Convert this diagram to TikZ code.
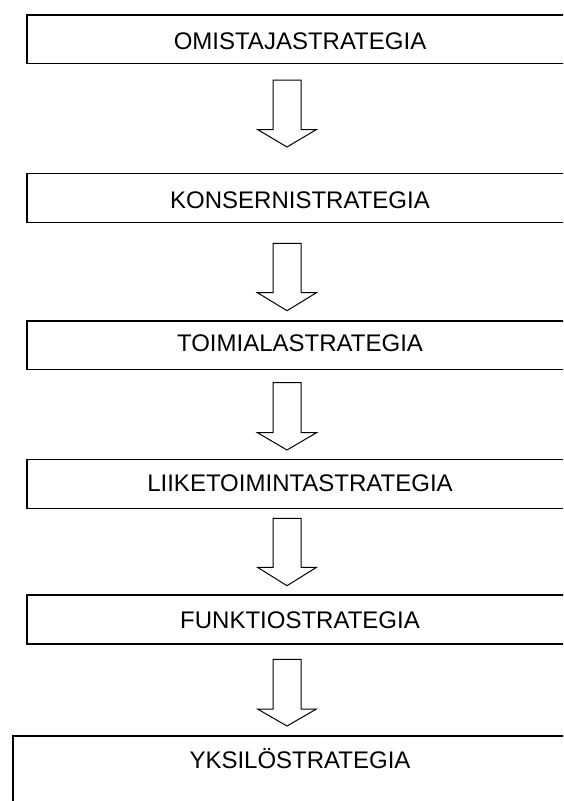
\documentclass[tikz,border=0pt]{standalone}
\usepackage{fontspec}
\setmainfont{Liberation Sans}
\begin{document}
\begin{tikzpicture}[x=1pt,y=1pt,
  levelbox/.style={draw=black, line width=1.5pt, rectangle, anchor=north west,
    inner sep=0pt, minimum width=548pt},
  levellabel/.style={anchor=base, inner sep=0pt, font=\fontsize{24}{28}\selectfont},
  blockarrow/.style={draw=black, line width=1pt, fill=white, line join=miter}]
\useasboundingbox (0,0) rectangle (563,-801);
\clip (0,0) rectangle (563,-801);

% strategy levels
\node[levelbox, minimum height=48.5pt] (b1) at (26,-14) {};
\node[levelbox, minimum height=49pt] (b2) at (26,-172.7) {};
\node[levelbox, minimum height=48.7pt] (b3) at (26,-320) {};
\node[levelbox, minimum height=49.2pt] (b4) at (26,-458.5) {};
\node[levelbox, minimum height=49pt] (b5) at (26,-594.3) {};
\node[levelbox, minimum width=576pt, minimum height=90pt] (b6) at (12,-735) {};

\node[levellabel] (t1) at (300,-49) {OMISTAJASTRATEGIA};
\node[levellabel] (t2) at (300,-208.3) {KONSERNISTRATEGIA};
\node[levellabel] (t3) at (300,-351.7) {TOIMIALASTRATEGIA};
\node[levellabel] (t4) at (300,-491.7) {LIIKETOIMINTASTRATEGIA};
\node[levellabel] (t5) at (300,-628.3) {FUNKTIOSTRATEGIA};
\node[levellabel] (t6) at (300,-768.3) {YKSILÖSTRATEGIA};

% hollow block arrows between the levels
\foreach \n/\top/\base/\tip in {1/80/129.5/147, 2/243.3/292.7/310.7,
    3/382.7/432.7/450, 4/518.3/567.3/585.7, 5/659.3/709/726}{
  \coordinate (a\n) at (287,-\top);
  \draw[blockarrow] (a\n) ++(-14,0) -- (273,-\base) -- (257.5,-\base)
    -- (287,-\tip) -- (316.5,-\base) -- (301,-\base) -- (301,-\top) -- cycle;
}
\end{tikzpicture}
\end{document}
